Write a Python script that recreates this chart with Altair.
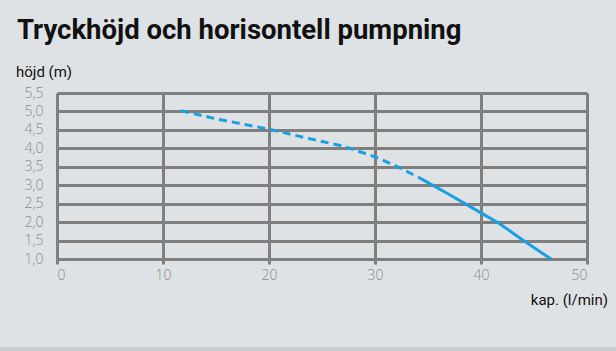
import altair as alt
import pandas as pd

# data
dashed_x = [11.7, 15.0, 20.0, 24.0, 27.0, 30.0, 32.0, 34.2]
dashed_y = [5.02, 4.80, 4.52, 4.25, 4.06, 3.77, 3.52, 3.20]
solid_x = [34.2, 37.0, 40.0, 41.8, 44.0, 46.6]
solid_y = [3.20, 2.75, 2.25, 1.95, 1.50, 1.00]
x_ticks = [0, 10, 20, 30, 40, 50]
y_ticks = [1.0, 1.5, 2.0, 2.5, 3.0, 3.5, 4.0, 4.5, 5.0, 5.5]
title_text = ["Tryckhöjd och horisontell pumpning"]
y_label = ["höjd (m)"]
x_label = ["kap. (l/min)"]

BG = "#dfe2e5"
GRID = "#7f7f7f"
LINE = "#1a9fe0"
COND = "Roboto, sans-serif"

W, H = 530, 166

df_d = pd.DataFrame({"x": dashed_x, "y": dashed_y})
df_s = pd.DataFrame({"x": solid_x, "y": solid_y})

xs = alt.Scale(domain=[0, 50], nice=False)
ys = alt.Scale(domain=[1.0, 5.5], nice=False, zero=False)

xaxis = alt.Axis(values=x_ticks, grid=True, gridColor=GRID, gridWidth=3,
                 gridOpacity=1, domain=False, ticks=True, tickColor=GRID,
                 tickWidth=3, tickSize=5, labelColor="#8a8a8a", labelFontSize=14,
                 labelFont="Open Sans", labelFontWeight=300, labelPadding=4,
                 labelOverlap=False, title=None)
yaxis = alt.Axis(values=y_ticks, grid=True, gridColor=GRID, gridWidth=3,
                 gridOpacity=1, domain=False, ticks=False,
                 labelColor="#8a8a8a", labelFontSize=14, labelFont="Open Sans",
                 labelFontWeight=300, labelPadding=14, labelOverlap=False,
                 labelExpr="replace(format(datum.value, '.1f'), '.', ',')",
                 title=None)

strip = alt.Chart(pd.DataFrame({"a": [0]})).mark_rect(color="#c8cacc").encode(
    x=alt.value(-57), x2=alt.value(W + 29),
    y=alt.value(254), y2=alt.value(262))

dashed = alt.Chart(df_d).mark_line(color=LINE, strokeWidth=3,
                                   strokeDash=[8, 5]).encode(
    x=alt.X("x:Q", scale=xs, axis=xaxis),
    y=alt.Y("y:Q", scale=ys, axis=yaxis),
)
solid = alt.Chart(df_s).mark_line(color=LINE, strokeWidth=3).encode(
    x=alt.X("x:Q", scale=xs, axis=xaxis),
    y=alt.Y("y:Q", scale=ys, axis=yaxis),
)

title = alt.Chart(pd.DataFrame({"t": title_text})).mark_text(
    align="left", baseline="alphabetic", font=COND, fontSize=27.5,
    fontWeight="bold", color="#111111").encode(
    text="t:N", x=alt.value(-40), y=alt.value(-54))
ylab = alt.Chart(pd.DataFrame({"t": y_label})).mark_text(
    align="left", baseline="alphabetic", font=COND, fontSize=15,
    color="#111111").encode(
    text="t:N", x=alt.value(-41), y=alt.value(-16))
xlab = alt.Chart(pd.DataFrame({"t": x_label})).mark_text(
    align="right", baseline="alphabetic", font=COND, fontSize=15,
    color="#111111").encode(
    text="t:N", x=alt.value(W + 21), y=alt.value(H + 46))

chart = alt.layer(dashed, solid, strip, title, ylab, xlab).properties(
    width=W, height=H,
    autosize=alt.AutoSizeParams(type="none"),
    padding={"left": 57, "top": 93, "right": 29, "bottom": 92},
    background=BG,
).configure_view(stroke=None)

chart.save("out.html", embed_options={"renderer": "svg", "actions": False})
